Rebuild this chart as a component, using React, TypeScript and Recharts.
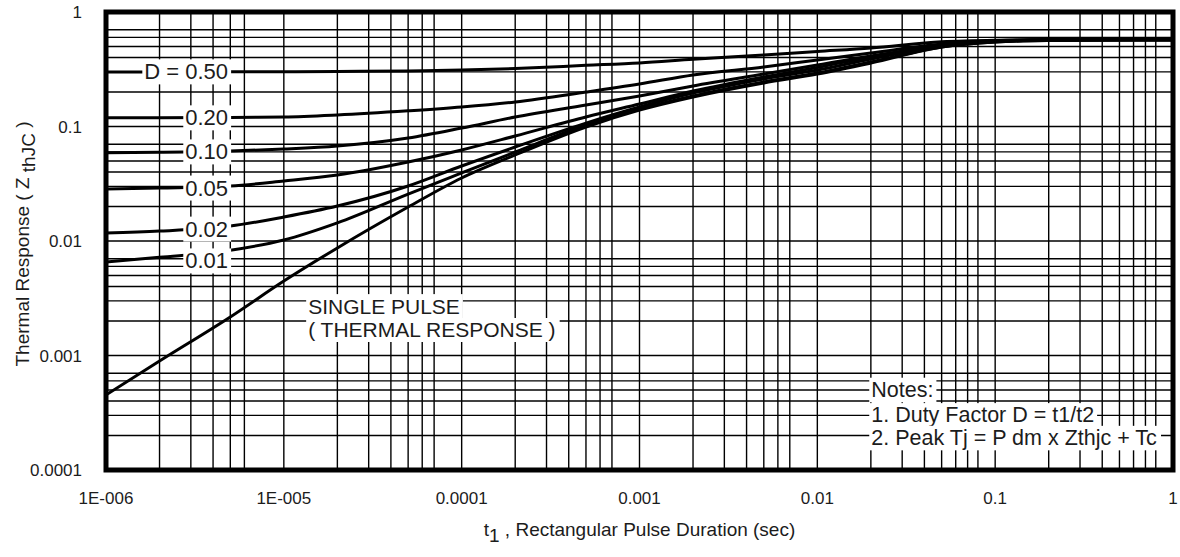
import React from "react";
import {
  LineChart,
  Line,
  XAxis,
  YAxis,
  CartesianGrid,
  ReferenceDot,
  ReferenceArea,
  Label,
} from "recharts";

// pulse duration samples (sec)
const pulseTimes = [
  1e-6, 2e-6, 5e-6, 1e-5, 2e-5, 5e-5, 1e-4, 2e-4, 5e-4, 1e-3, 2e-3, 5e-3, 1e-2, 2e-2, 5e-2, 0.1,
  0.2, 0.5, 1,
];

// Zth(jc), one list per duty factor
const zD050 = [0.299, 0.299, 0.3, 0.3, 0.302, 0.306, 0.311, 0.321, 0.342, 0.359, 0.386, 0.421, 0.452, 0.485, 0.55, 0.568, 0.573, 0.573, 0.573];
const zD020 = [0.119, 0.119, 0.12, 0.121, 0.126, 0.137, 0.148, 0.164, 0.2, 0.235, 0.282, 0.331, 0.381, 0.438, 0.525, 0.562, 0.573, 0.573, 0.573];
const zD010 = [0.059, 0.0595, 0.061, 0.0636, 0.0676, 0.0794, 0.097, 0.121, 0.154, 0.185, 0.226, 0.287, 0.344, 0.413, 0.505, 0.555, 0.571, 0.573, 0.573];
const zD005 = [0.0284, 0.029, 0.0302, 0.0334, 0.0377, 0.049, 0.0624, 0.0826, 0.121, 0.157, 0.204, 0.271, 0.328, 0.405, 0.515, 0.555, 0.57, 0.573, 0.573];
const zD002 = [0.01175, 0.0122, 0.0135, 0.0162, 0.0202, 0.0302, 0.0452, 0.0662, 0.107, 0.148, 0.196, 0.26, 0.311, 0.389, 0.505, 0.552, 0.569, 0.573, 0.573];
const zD001 = [0.00656, 0.0072, 0.0083, 0.0102, 0.0144, 0.0257, 0.0393, 0.0599, 0.103, 0.142, 0.185, 0.245, 0.293, 0.366, 0.495, 0.547, 0.566, 0.573, 0.573];
const zSingle = [0.000452, 0.000895, 0.00217, 0.00447, 0.0087, 0.0198, 0.0355, 0.0564, 0.099, 0.139, 0.181, 0.24, 0.287, 0.358, 0.495, 0.547, 0.564, 0.57, 0.573];

const seriesKeys = ["d50", "d20", "d10", "d05", "d02", "d01", "single"];
const seriesValues = [zD050, zD020, zD010, zD005, zD002, zD001, zSingle];

// curve tags, sitting on each curve near the left edge
const curveLabels = ["D = 0.50", "0.20", "0.10", "0.05", "0.02", "0.01"];
const curveLabelZ = [0.3, 0.119, 0.06, 0.029, 0.0127, 0.0067];
const curveLabelT = 4.86e-6;

// axis ticks
const xTicks = [1e-6, 1e-5, 1e-4, 1e-3, 1e-2, 0.1, 1];
const xTickLabels = ["1E-006", "1E-005", "0.0001", "0.001", "0.01", "0.1", "1"];
const yTicks = [1e-4, 1e-3, 1e-2, 0.1, 1];
const yTickLabels = ["0.0001", "0.001", "0.01", "0.1", "1"];

// log grid: 1..9 in every decade
const mantissas = [1, 2, 3, 4, 5, 6, 7, 8, 9];
const xDecades = [1e-6, 1e-5, 1e-4, 1e-3, 1e-2, 0.1];
const yDecades = [1e-4, 1e-3, 1e-2, 0.1];
const gridX = xDecades.flatMap((d) => mantissas.map((m) => m * d)).concat([1]);
const gridY = yDecades.flatMap((d) => mantissas.map((m) => m * d)).concat([1]);

const notes = ["Notes:", "1. Duty Factor D = t1/t2", "2. Peak Tj = P dm x Zthjc + Tc"];
const notesZ = [5.0e-4, 3.0e-4, 1.9e-4];
const notesT = 0.0201;

const pulseText = ["SINGLE PULSE", "( THERMAL RESPONSE )"];
const pulseZ = [2.7e-3, 1.67e-3];
const pulseT = 1.37e-5;

const FONT = "'Liberation Sans', Arial, sans-serif";
const INK = "#1c1c1c";

const data = pulseTimes.map((t, i) => {
  const row: Record<string, number> = { t };
  seriesKeys.forEach((k, j) => (row[k] = seriesValues[j][i]));
  return row;
});

let measureCtx: CanvasRenderingContext2D | null = null;
function textWidth(s: string, size: number) {
  if (!measureCtx) measureCtx = document.createElement("canvas").getContext("2d");
  if (!measureCtx) return s.length * size * 0.55;
  measureCtx.font = `${size}px 'Liberation Sans', Arial`;
  return measureCtx.measureText(s).width;
}

// text on a white patch, so the grid stops behind it
function TextPatch(props: any) {
  const { viewBox, text, anchor, fontSize } = props;
  if (!viewBox) return null;
  const cx = viewBox.x + viewBox.width / 2;
  const cy = viewBox.y + viewBox.height / 2;
  const w = textWidth(text, fontSize);
  const left = anchor === "end" ? cx - w - 2 : cx - 2;
  const h = fontSize + 3;
  return (
    <g>
      <rect x={left} y={cy - h / 2} width={w + 5} height={h} fill="#fff" />
      <text
        x={cx}
        y={cy}
        textAnchor={anchor}
        dominantBaseline="central"
        fontSize={fontSize}
        fontFamily={FONT}
        fill={INK}
      >
        {text}
      </text>
    </g>
  );
}

function YTitle(props: any) {
  const cx = 22;
  const cy = 244;
  return (
    <text
      x={cx}
      y={cy}
      transform={`rotate(-90, ${cx}, ${cy})`}
      textAnchor="middle"
      dominantBaseline="central"
      fontSize={19}
      fontFamily={FONT}
      fill={INK}
    >
      Thermal Response ( Z{"  "}
      <tspan dy={6}>thJC</tspan>
      <tspan dy={-6}> )</tspan>
    </text>
  );
}

function XTitle(props: any) {
  const vb = props.viewBox;
  const cx = vb.x + vb.width / 2;
  return (
    <text x={cx} y={536} textAnchor="middle" fontSize={19} fontFamily={FONT} fill={INK}>
      t<tspan dy={6}>1</tspan>
      <tspan dy={-6}> , Rectangular Pulse Duration (sec)</tspan>
    </text>
  );
}

export default function App() {
  return (
    <div style={{ position: "absolute", left: 0, top: 0, background: "#fff" }}>
      <LineChart
        width={1180}
        height={557}
        data={data}
        margin={{ top: 12, right: 7, bottom: 0, left: 0 }}
      >
        <CartesianGrid
          stroke="#000"
          strokeWidth={1.4}
          verticalValues={gridX}
          horizontalValues={gridY}
        />
        <XAxis
          dataKey="t"
          type="number"
          scale="log"
          domain={[1e-6, 1]}
          ticks={xTicks}
          allowDataOverflow
          height={87}
          axisLine={false}
          tickLine={false}
          tickSize={0}
          tickMargin={22}
          tick={{ fill: INK, fontSize: 17, fontFamily: FONT }}
          tickFormatter={(v: number) => xTickLabels[xTicks.indexOf(v)] ?? ""}
        >
          <Label content={<XTitle />} />
        </XAxis>
        <YAxis
          type="number"
          scale="log"
          domain={[1e-4, 1]}
          ticks={yTicks}
          allowDataOverflow
          width={106}
          axisLine={false}
          tickLine={false}
          tickSize={0}
          tickMargin={24}
          tick={{ fill: INK, fontSize: 17, fontFamily: FONT }}
          tickFormatter={(v: number) => yTickLabels[yTicks.indexOf(v)] ?? ""}
        >
          <Label content={<YTitle />} />
        </YAxis>
        {seriesKeys.map((k) => (
          <Line
            key={k}
            dataKey={k}
            type="monotone"
            stroke="#000"
            strokeWidth={3}
            dot={false}
            activeDot={false}
            isAnimationActive={false}
          />
        ))}
        <ReferenceArea
          x1={1e-6}
          x2={1}
          y1={1e-4}
          y2={1}
          fill="none"
          stroke="#000"
          strokeWidth={5}
          ifOverflow="visible"
        />
        {curveLabels.map((s, i) => (
          <ReferenceDot
            key={s}
            x={curveLabelT}
            y={curveLabelZ[i]}
            r={0}
            fill="none"
            stroke="none"
            label={(p: any) => <TextPatch viewBox={p.viewBox} text={s} anchor="end" fontSize={22} />}
          />
        ))}
        {pulseText.map((s, i) => (
          <ReferenceDot
            key={s}
            x={pulseT}
            y={pulseZ[i]}
            r={0}
            fill="none"
            stroke="none"
            label={(p: any) => <TextPatch viewBox={p.viewBox} text={s} anchor="start" fontSize={21} />}
          />
        ))}
        {notes.map((s, i) => (
          <ReferenceDot
            key={s}
            x={notesT}
            y={notesZ[i]}
            r={0}
            fill="none"
            stroke="none"
            label={(p: any) => <TextPatch viewBox={p.viewBox} text={s} anchor="start" fontSize={21.5} />}
          />
        ))}
      </LineChart>
    </div>
  );
}
